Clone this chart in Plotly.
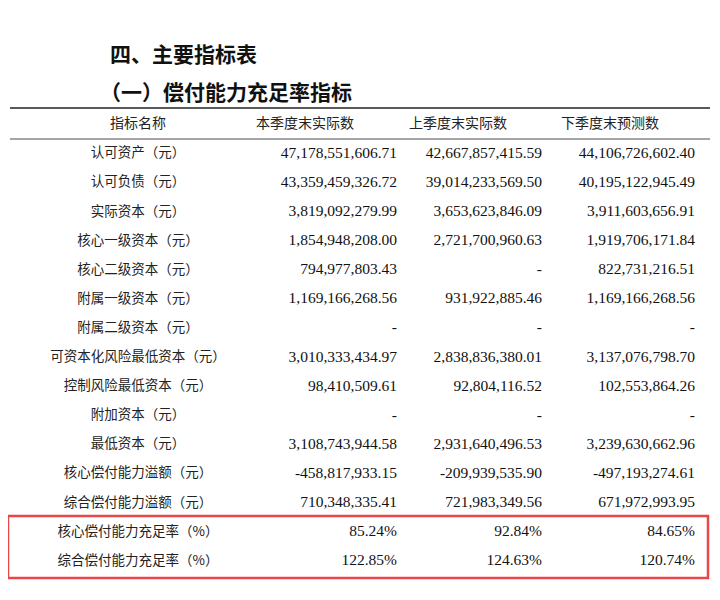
import plotly.graph_objects as go

title = "四、主要指标表"
subtitle = "（一）偿付能力充足率指标"
headers = ["指标名称", "本季度末实际数", "上季度末实际数", "下季度末预测数"]
names = ["认可资产（元）", "认可负债（元）", "实际资本（元）", "核心一级资本（元）",
         "核心二级资本（元）", "附属一级资本（元）", "附属二级资本（元）",
         "可资本化风险最低资本（元）", "控制风险最低资本（元）", "附加资本（元）",
         "最低资本（元）", "核心偿付能力溢额（元）", "综合偿付能力溢额（元）",
         "核心偿付能力充足率（%）", "综合偿付能力充足率（%）"]
current = ["47,178,551,606.71", "43,359,459,326.72", "3,819,092,279.99", "1,854,948,208.00",
           "794,977,803.43", "1,169,166,268.56", "-", "3,010,333,434.97", "98,410,509.61", "-",
           "3,108,743,944.58", "-458,817,933.15", "710,348,335.41", "85.24%", "122.85%"]
previous = ["42,667,857,415.59", "39,014,233,569.50", "3,653,623,846.09", "2,721,700,960.63",
            "-", "931,922,885.46", "-", "2,838,836,380.01", "92,804,116.52", "-",
            "2,931,640,496.53", "-209,939,535.90", "721,983,349.56", "92.84%", "124.63%"]
forecast = ["44,106,726,602.40", "40,195,122,945.49", "3,911,603,656.91", "1,919,706,171.84",
            "822,731,216.51", "1,169,166,268.56", "-", "3,137,076,798.70", "102,553,864.26", "-",
            "3,239,630,662.96", "-497,193,274.61", "671,972,993.95", "84.65%", "120.74%"]

# page in pixel coordinates (page body has an 8px margin)
row0, step = 154, 29.1
rows = [row0 + i * step for i in range(len(names))]
cjk = "Noto Sans CJK SC"
num = "Liberation Serif"

fig = go.Figure()
fig.add_trace(go.Scatter(x=[138] * len(names), y=rows, text=names, mode="text",
                         textposition="middle center",
                         textfont=dict(family=cjk, size=13.5, color="#222")))
for xr, col in [(397, current), (542, previous), (695, forecast)]:
    fig.add_trace(go.Scatter(x=[xr] * len(col), y=rows, text=col, mode="text",
                             textposition="middle left",
                             textfont=dict(family=num, size=15.5, color="#111")))
fig.add_trace(go.Scatter(x=[138, 305, 458, 610], y=[124] * 4, text=headers, mode="text",
                         textposition="middle center",
                         textfont=dict(family=cjk, size=14, color="#222")))

fig.add_annotation(x=108, y=53, text="<b>" + title + "</b>", showarrow=False, xanchor="left",
                   font=dict(family=cjk, size=21, color="#111"))
fig.add_annotation(x=98, y=91, text="<b>" + subtitle + "</b>", showarrow=False, xanchor="left",
                   font=dict(family=cjk, size=21, color="#111"))

fig.add_shape(type="line", x0=10, x1=710, y0=108, y1=108, line=dict(color="#222", width=1.5))
fig.add_shape(type="line", x0=10, x1=710, y0=139, y1=139, line=dict(color="#888", width=1.5))
fig.add_shape(type="rect", x0=8, x1=708, y0=516, y1=578,
              line=dict(color="#e8474a", width=2.5))

fig.update_layout(width=712, height=592, margin=dict(l=0, r=0, t=0, b=0),
                  plot_bgcolor="white", paper_bgcolor="white", showlegend=False)
fig.update_xaxes(range=[8, 720], visible=False)
fig.update_yaxes(range=[600, 8], visible=False)
fig.write_html("out.html")
